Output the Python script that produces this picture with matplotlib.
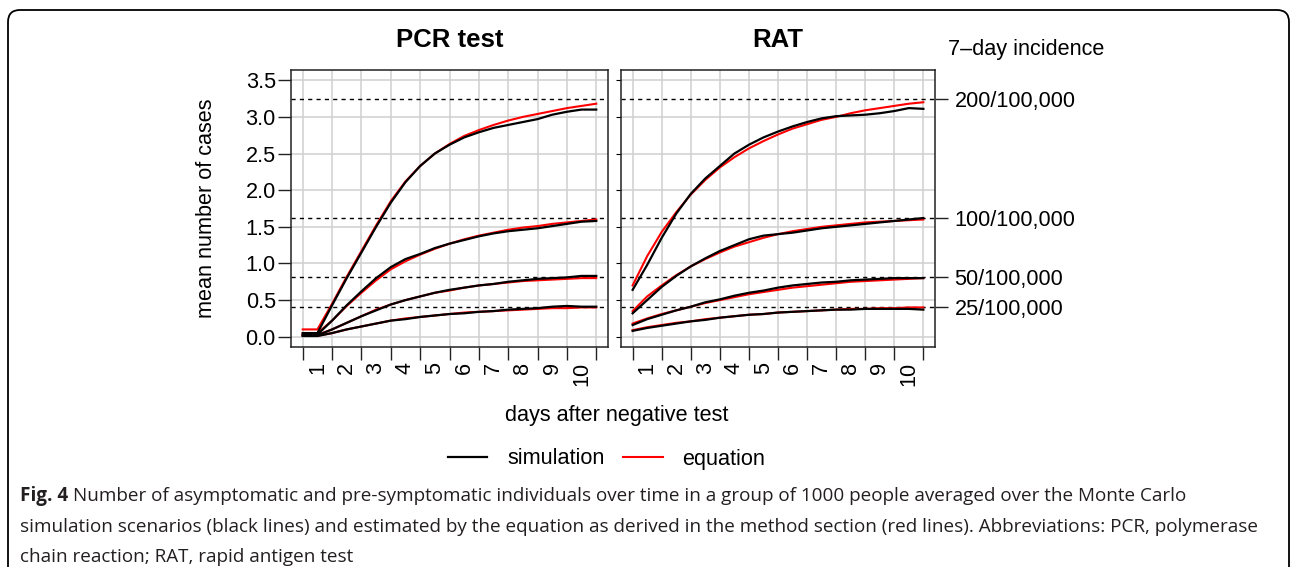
import matplotlib.pyplot as plt
from matplotlib.patches import FancyBboxPatch
from matplotlib.transforms import IdentityTransform

# time axis (days after negative test), read every half day
days = [0, 0.5, 1, 1.5, 2, 2.5, 3, 3.5, 4, 4.5, 5, 5.5, 6, 6.5, 7, 7.5, 8, 8.5, 9, 9.5, 10]
day_labels = ['1', '2', '3', '4', '5', '6', '7', '8', '9', '10']
y_ticks = [0, 0.5, 1.0, 1.5, 2.0, 2.5, 3.0, 3.5]

# 7-day incidence levels (dashed lines) and their labels
levels = [3.25, 1.625, 0.8125, 0.40625]
level_labels = ['200/100,000', '100/100,000', '50/100,000', '25/100,000']

# PCR test: equation (red) and simulation (black)
pcr_eq_200 = [0.10, 0.10, 0.45, 0.82, 1.17, 1.52, 1.85, 2.12, 2.33, 2.50, 2.63, 2.74, 2.82, 2.89, 2.95, 3.00, 3.04, 3.08, 3.12, 3.15, 3.18]
pcr_sim_200 = [0.05, 0.05, 0.43, 0.80, 1.15, 1.50, 1.83, 2.11, 2.33, 2.50, 2.62, 2.72, 2.79, 2.85, 2.89, 2.93, 2.97, 3.03, 3.07, 3.10, 3.10]
pcr_eq_100 = [0.05, 0.05, 0.22, 0.42, 0.60, 0.77, 0.92, 1.03, 1.12, 1.20, 1.27, 1.33, 1.38, 1.42, 1.46, 1.49, 1.51, 1.54, 1.56, 1.58, 1.60]
pcr_sim_100 = [0.03, 0.03, 0.22, 0.43, 0.62, 0.80, 0.95, 1.06, 1.13, 1.21, 1.27, 1.32, 1.37, 1.41, 1.44, 1.46, 1.48, 1.51, 1.54, 1.57, 1.58]
pcr_eq_50 = [0.025, 0.025, 0.10, 0.19, 0.28, 0.37, 0.44, 0.50, 0.55, 0.60, 0.63, 0.67, 0.70, 0.72, 0.74, 0.76, 0.77, 0.78, 0.79, 0.80, 0.80]
pcr_sim_50 = [0.02, 0.02, 0.10, 0.19, 0.28, 0.36, 0.44, 0.50, 0.55, 0.60, 0.64, 0.67, 0.70, 0.72, 0.75, 0.77, 0.79, 0.80, 0.81, 0.83, 0.83]
pcr_eq_25 = [0.0125, 0.0125, 0.05, 0.10, 0.14, 0.18, 0.22, 0.25, 0.27, 0.29, 0.31, 0.33, 0.34, 0.35, 0.36, 0.37, 0.38, 0.39, 0.39, 0.40, 0.40]
pcr_sim_25 = [0.01, 0.01, 0.05, 0.10, 0.14, 0.18, 0.22, 0.24, 0.27, 0.29, 0.31, 0.32, 0.34, 0.35, 0.37, 0.38, 0.39, 0.41, 0.42, 0.41, 0.41]

# RAT: equation (red) and simulation (black)
rat_eq_200 = [0.70, 1.10, 1.43, 1.70, 1.94, 2.14, 2.31, 2.45, 2.57, 2.67, 2.76, 2.84, 2.90, 2.96, 3.00, 3.05, 3.09, 3.12, 3.15, 3.18, 3.20]
rat_sim_200 = [0.64, 0.98, 1.35, 1.68, 1.95, 2.16, 2.33, 2.50, 2.62, 2.72, 2.80, 2.87, 2.93, 2.98, 3.01, 3.02, 3.03, 3.05, 3.08, 3.12, 3.11]
rat_eq_100 = [0.35, 0.55, 0.70, 0.84, 0.96, 1.06, 1.15, 1.23, 1.29, 1.35, 1.40, 1.44, 1.47, 1.50, 1.52, 1.54, 1.56, 1.57, 1.58, 1.59, 1.60]
rat_sim_100 = [0.32, 0.50, 0.68, 0.83, 0.96, 1.07, 1.17, 1.25, 1.33, 1.38, 1.40, 1.42, 1.45, 1.48, 1.50, 1.52, 1.54, 1.56, 1.58, 1.60, 1.62]
rat_eq_50 = [0.18, 0.25, 0.31, 0.36, 0.41, 0.46, 0.50, 0.54, 0.58, 0.61, 0.64, 0.67, 0.69, 0.71, 0.73, 0.75, 0.76, 0.77, 0.78, 0.79, 0.80]
rat_sim_50 = [0.16, 0.24, 0.30, 0.36, 0.41, 0.47, 0.51, 0.56, 0.60, 0.63, 0.67, 0.70, 0.72, 0.74, 0.75, 0.77, 0.78, 0.79, 0.80, 0.80, 0.80]
rat_eq_25 = [0.09, 0.13, 0.16, 0.19, 0.21, 0.24, 0.26, 0.28, 0.30, 0.31, 0.33, 0.34, 0.35, 0.36, 0.37, 0.38, 0.38, 0.39, 0.39, 0.40, 0.40]
rat_sim_25 = [0.08, 0.12, 0.15, 0.18, 0.21, 0.23, 0.26, 0.28, 0.30, 0.31, 0.33, 0.34, 0.35, 0.36, 0.37, 0.37, 0.38, 0.38, 0.38, 0.38, 0.37]

caption_1 = 'Number of asymptomatic and pre-symptomatic individuals over time in a group of 1000 people averaged over the Monte Carlo'
caption_2 = ('simulation scenarios (black lines) and estimated by the equation as derived in the method section (red lines). '
             'Abbreviations: PCR, polymerase')
caption_3 = 'chain reaction; RAT, rapid antigen test'

plt.rcParams['font.family'] = ['Liberation Sans', 'DejaVu Sans']
FS = 15.6

W, H = 1295, 567
fig = plt.figure(figsize=(W / 100, H / 100), dpi=100)
ax_pcr = fig.add_axes([291 / W, 1 - 347 / H, 317 / W, 277 / H])
ax_rat = fig.add_axes([621 / W, 1 - 347 / H, 314 / W, 277 / H])


def style_panel(ax, title):
    ax.set_xlim(-0.4, 10.4)
    ax.set_ylim(-0.14, 3.64)
    ax.set_xticks(range(11))
    ax.set_xticklabels([])
    ax.set_xticks([d - 0.5 for d in range(1, 11)], minor=True)
    ax.set_xticklabels(day_labels, minor=True, rotation=90)
    ax.tick_params(axis='x', which='major', length=9.4, width=1.0, color='#222222')
    ax.tick_params(axis='x', which='minor', length=0, pad=10.8, labelsize=FS)
    ax.set_yticks(y_ticks)
    ax.grid(True, which='major', color='#d0d0d0', lw=1.1)
    ax.set_axisbelow(True)
    for sp in ax.spines.values():
        sp.set_linewidth(1.1)
        sp.set_color('#222222')
    for lev in levels:
        ax.axhline(lev, color='black', lw=1.0, ls=(0, (3, 3)), zorder=2)
    ax.set_title(title, fontsize=18.5, fontweight='bold', pad=16.5)


style_panel(ax_pcr, 'PCR test')
style_panel(ax_rat, 'RAT')

ax_pcr.set_yticklabels(['%.1f' % v for v in y_ticks])
ax_pcr.tick_params(axis='y', length=9.4, width=1.0, pad=1.5, labelsize=FS, color='#222222')
ax_rat.tick_params(axis='y', left=False, labelleft=False)

# right axis with the incidence labels
ax_lev = ax_rat.twinx()
ax_lev.set_ylim(ax_rat.get_ylim())
ax_lev.set_yticks(levels)
ax_lev.set_yticklabels(level_labels)
ax_lev.tick_params(axis='y', length=9.4, width=1.0, pad=4.7, labelsize=FS, color='#222222')
for sp in ax_lev.spines.values():
    sp.set_visible(False)

for eq, sim in [(pcr_eq_200, pcr_sim_200), (pcr_eq_100, pcr_sim_100), (pcr_eq_50, pcr_sim_50), (pcr_eq_25, pcr_sim_25)]:
    l_eq, = ax_pcr.plot(days, eq, color='red', lw=1.5, zorder=3)
    l_sim, = ax_pcr.plot(days, sim, color='black', lw=1.6, zorder=4)

for eq, sim in [(rat_eq_200, rat_sim_200), (rat_eq_100, rat_sim_100), (rat_eq_50, rat_sim_50), (rat_eq_25, rat_sim_25)]:
    ax_rat.plot(days, eq, color='red', lw=1.5, zorder=3)
    ax_rat.plot(days, sim, color='black', lw=1.6, zorder=4)

fig.text(948 / W, 1 - 50 / H, '7\u2013day incidence', fontsize=FS, va='center', ha='left')
fig.text(207 / W, 1 - 208.5 / H, 'mean number of cases', fontsize=FS, rotation=90, va='center', ha='center')
fig.text(617 / W, 1 - 416 / H, 'days after negative test', fontsize=FS, va='center', ha='center')

fig.legend([l_sim, l_eq], ['simulation', 'equation'], ncol=2, frameon=False, loc='center',
           bbox_to_anchor=(606.5 / W, 1 - 459 / H), fontsize=FS,
           handlelength=1.84, handletextpad=0.92, columnspacing=0.83)

# caption
cap_fs = 13.6
cap_color = '#231f20'
t_fig = fig.text(20 / W, 1 - 496 / H, 'Fig. 4', family='Open Sans', fontweight='bold',
                 fontsize=cap_fs, color=cap_color, va='center', ha='left')
fig.canvas.draw()
bb = t_fig.get_window_extent()
fig.text((bb.x1 + 5) / W, 1 - 496 / H, caption_1, family='Open Sans', fontsize=cap_fs,
         color=cap_color, va='center', ha='left')
fig.text(20 / W, 1 - 527 / H, caption_2, family='Open Sans', fontsize=cap_fs,
         color=cap_color, va='center', ha='left')
fig.text(20 / W, 1 - 557 / H, caption_3, family='Open Sans', fontsize=cap_fs,
         color=cap_color, va='center', ha='left')

# rounded frame around the figure
frame = FancyBboxPatch((8, -30), 1281, H - 10 + 30, boxstyle='round,pad=0,rounding_size=12',
                       transform=IdentityTransform(), fill=False, lw=1.3, ec='black')
fig.add_artist(frame)

fig.savefig('out.png', dpi=100)
